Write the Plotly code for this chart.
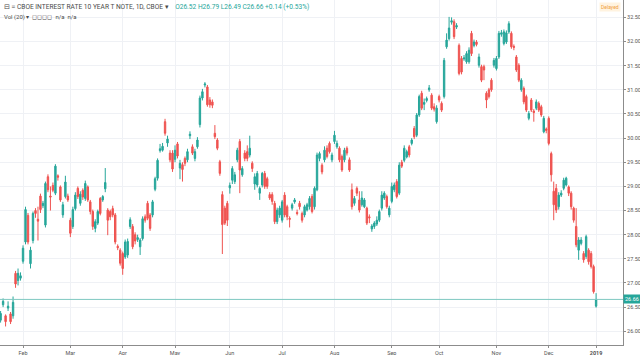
import plotly.graph_objects as go
import pandas as pd

# ---- categories: trading days ----
holidays = ["2018-02-19", "2018-03-30", "2018-05-28", "2018-07-04", "2018-09-03",
            "2018-11-22", "2018-12-05", "2018-12-25", "2019-01-01"]
dates = [d.strftime("%Y-%m-%d") for d in pd.bdate_range("2018-01-18", "2019-01-02")
         if d.strftime("%Y-%m-%d") not in holidays]

# ---- OHLC values ----
opens = [26.30, 26.23, 26.55, 26.32, 26.48, 26.36, 26.32, 27.20, 27.05, 27.10,
         27.45, 27.85, 28.40, 27.40, 27.88, 28.50, 28.32, 28.80, 28.60, 28.20,
         29.20, 28.80, 29.02, 28.86, 29.22, 28.99, 28.41, 28.79, 28.80, 28.30,
         28.17, 28.54, 28.96, 28.65, 28.92, 28.75, 28.99, 28.68, 28.48, 28.13,
         28.24, 28.75, 28.72, 28.95, 28.51, 28.48, 28.54, 28.41, 27.76, 27.68,
         27.61, 27.54, 27.58, 28.17, 28.17, 28.00, 27.90, 27.75, 27.92, 28.37,
         28.65, 28.41, 28.41, 28.94, 29.17, 29.74, 29.75, 30.34, 29.90, 29.69,
         29.69, 29.56, 29.88, 29.38, 29.45, 29.58, 29.55, 30.05, 29.82, 29.58,
         29.82, 30.28, 30.83, 31.10, 31.06, 30.79, 30.75, 30.10, 29.96, 29.51,
         28.83, 28.55, 28.65, 28.97, 29.13, 29.10, 29.55, 29.93, 29.24, 29.69,
         29.72, 29.65, 29.48, 29.05, 29.03, 28.86, 29.03, 29.27, 29.16, 28.83,
         28.83, 28.65, 28.27, 28.41, 28.30, 28.82, 28.58, 28.34, 28.55, 28.68,
         28.46, 28.65, 28.44, 28.41, 28.51, 28.58, 28.79, 28.58, 28.93, 29.58,
         29.44, 29.55, 29.79, 29.89, 29.55, 29.93, 29.82, 29.79, 29.62, 29.55,
         29.79, 29.55, 28.93, 28.65, 28.96, 28.72, 28.62, 28.58, 28.55, 28.37,
         28.12, 28.17, 28.22, 28.30, 28.55, 28.76, 28.79, 28.41, 28.69, 28.93,
         29.10, 28.86, 29.50, 29.54, 29.61, 29.82, 29.89, 30.20, 30.06, 30.48,
         30.93, 30.70, 30.78, 31.00, 30.89, 30.65, 30.34, 30.86, 30.72, 30.86,
         31.89, 32.06, 32.40, 32.41, 32.30, 31.92, 31.65, 31.64, 31.58, 31.58,
         32.17, 31.92, 31.99, 31.51, 31.48, 31.48, 30.93, 31.00, 31.20, 31.51,
         31.44, 31.68, 32.15, 31.96, 31.99, 32.20, 32.17, 31.90, 31.68, 31.51,
         31.00, 31.03, 30.86, 30.41, 30.79, 30.56, 30.62, 30.72, 30.65, 30.13,
         30.19, 30.41, 29.68, 28.90, 28.96, 28.58, 28.82, 28.96, 29.03, 28.99,
         28.86, 28.55, 28.17, 27.68, 27.82, 27.61, 27.55, 27.68, 27.61, 27.34,
         26.52]
highs = [26.36, 26.42, 26.68, 26.35, 26.62, 26.40, 26.72, 27.25, 27.30, 27.22,
         27.78, 28.58, 28.45, 27.75, 28.48, 28.55, 28.58, 28.85, 28.70, 29.10,
         29.25, 29.00, 29.08, 29.46, 29.25, 29.02, 28.68, 29.22, 28.85, 28.35,
         28.58, 28.88, 29.00, 28.90, 28.96, 29.12, 29.02, 28.72, 28.52, 28.32,
         28.52, 28.78, 28.82, 29.38, 28.55, 28.52, 28.60, 28.45, 27.80, 27.72,
         27.65, 27.90, 27.92, 28.36, 28.22, 28.05, 28.00, 27.93, 28.38, 28.42,
         28.70, 28.45, 28.72, 29.20, 29.58, 29.88, 29.90, 30.40, 30.05, 29.75,
         29.75, 29.85, 29.92, 29.55, 29.50, 29.62, 29.78, 30.14, 29.87, 29.78,
         30.02, 30.88, 31.02, 31.16, 31.10, 30.85, 30.80, 30.27, 30.00, 29.55,
         28.90, 28.60, 28.70, 29.08, 29.42, 29.30, 29.80, 29.98, 29.42, 29.75,
         29.85, 30.05, 29.52, 29.27, 29.32, 29.00, 29.30, 29.32, 29.20, 28.88,
         28.88, 28.70, 28.56, 28.60, 28.72, 28.88, 28.62, 28.38, 28.66, 28.76,
         28.52, 28.70, 28.48, 28.62, 28.66, 28.80, 28.84, 29.00, 29.70, 29.72,
         29.48, 29.83, 29.85, 29.93, 29.70, 30.15, 29.95, 29.83, 29.66, 29.80,
         29.83, 29.60, 29.06, 28.80, 29.00, 28.90, 28.90, 28.76, 28.58, 28.42,
         28.22, 28.28, 28.38, 28.52, 28.90, 28.90, 28.83, 28.60, 29.08, 29.08,
         29.15, 29.50, 29.55, 29.85, 29.76, 29.86, 30.00, 30.25, 30.52, 30.90,
         30.98, 30.82, 30.86, 31.10, 30.93, 30.72, 30.68, 30.90, 30.76, 31.66,
         32.17, 32.51, 32.50, 32.46, 32.38, 31.96, 31.70, 31.72, 31.80, 31.88,
         32.22, 32.04, 32.03, 31.75, 31.52, 31.52, 30.97, 31.04, 31.24, 31.66,
         31.70, 32.22, 32.24, 32.25, 32.23, 32.42, 32.21, 31.94, 31.72, 31.55,
         31.24, 31.07, 30.90, 30.56, 30.83, 30.60, 30.80, 30.76, 30.69, 30.46,
         30.22, 30.45, 29.72, 29.10, 29.05, 28.88, 28.92, 29.18, 29.20, 29.02,
         28.90, 28.58, 28.55, 27.95, 27.95, 27.66, 28.00, 27.72, 27.66, 27.38,
         26.79]
lows = [26.20, 26.18, 26.50, 26.10, 26.42, 26.15, 26.26, 26.90, 26.95, 27.05,
        27.40, 27.80, 27.80, 27.30, 27.82, 28.35, 27.88, 28.45, 28.55, 28.15,
        28.88, 28.50, 28.88, 28.82, 29.12, 28.68, 28.35, 28.75, 28.68, 27.95,
        28.12, 28.50, 28.74, 28.60, 28.72, 28.70, 28.68, 28.42, 28.10, 28.05,
        28.20, 28.40, 28.68, 28.88, 27.99, 28.30, 28.36, 27.80, 27.68, 27.36,
        27.17, 27.50, 27.52, 28.12, 27.70, 27.80, 27.85, 27.58, 27.88, 28.25,
        28.30, 28.08, 28.36, 28.90, 29.12, 29.70, 29.72, 30.05, 29.82, 29.50,
        29.30, 29.50, 29.58, 29.15, 29.10, 29.42, 29.50, 29.98, 29.65, 29.52,
        29.78, 30.22, 30.78, 31.05, 30.65, 30.63, 30.62, 29.98, 29.75, 29.22,
        27.60, 28.20, 28.18, 28.85, 29.05, 29.05, 29.50, 28.86, 29.20, 29.52,
        29.52, 29.60, 29.30, 28.93, 28.98, 28.72, 28.98, 28.95, 28.95, 28.72,
        28.62, 28.22, 28.22, 28.35, 28.25, 28.36, 28.30, 28.15, 28.50, 28.64,
        28.40, 28.52, 28.25, 28.36, 28.48, 28.52, 28.44, 28.52, 28.90, 29.52,
        29.25, 29.50, 29.58, 29.68, 29.50, 29.88, 29.78, 29.50, 29.30, 29.50,
        29.64, 29.30, 28.52, 28.60, 28.80, 28.46, 28.58, 28.55, 28.20, 28.24,
        28.06, 28.12, 28.18, 28.26, 28.50, 28.72, 28.54, 28.36, 28.65, 28.88,
        28.75, 28.82, 29.38, 29.50, 29.58, 29.60, 29.85, 29.98, 30.02, 30.44,
        30.58, 30.58, 30.74, 30.96, 30.58, 30.55, 30.30, 30.74, 30.54, 30.82,
        31.85, 32.02, 32.35, 32.05, 32.26, 31.30, 31.32, 31.60, 31.54, 31.54,
        31.70, 31.88, 31.90, 31.46, 31.16, 31.20, 30.62, 30.82, 30.96, 31.46,
        31.40, 31.64, 32.10, 31.92, 31.95, 32.16, 31.85, 31.82, 31.37, 31.16,
        30.96, 30.70, 30.54, 30.37, 30.54, 30.34, 30.58, 30.54, 30.44, 30.10,
        30.10, 29.85, 29.10, 28.30, 28.45, 28.52, 28.78, 28.92, 29.00, 28.80,
        28.52, 28.25, 27.74, 27.48, 27.78, 27.42, 27.50, 27.38, 27.30, 26.78,
        26.49]
closes = [26.25, 26.37, 26.62, 26.20, 26.52, 26.20, 26.60, 26.98, 27.20, 27.15,
          27.72, 28.52, 27.85, 27.68, 28.44, 28.44, 28.28, 28.52, 28.65, 29.06,
          28.93, 28.78, 28.92, 29.42, 29.19, 28.72, 28.62, 29.09, 28.72, 28.03,
          28.52, 28.82, 28.79, 28.84, 28.78, 29.06, 28.72, 28.48, 28.17, 28.27,
          28.48, 28.44, 28.79, 29.08, 28.30, 28.37, 28.41, 27.85, 27.73, 27.41,
          27.30, 27.85, 27.86, 28.31, 27.75, 27.87, 27.94, 27.89, 28.33, 28.30,
          28.34, 28.13, 28.68, 29.16, 29.54, 29.78, 29.83, 30.10, 29.98, 29.55,
          29.36, 29.75, 29.63, 29.48, 29.35, 29.48, 29.72, 30.08, 29.69, 29.72,
          29.96, 30.83, 30.96, 31.12, 30.69, 30.69, 30.68, 30.03, 29.79, 29.27,
          28.21, 28.24, 28.30, 29.02, 29.37, 29.24, 29.75, 29.34, 29.37, 29.58,
          29.58, 29.79, 29.37, 29.20, 29.27, 28.96, 29.27, 29.00, 29.00, 28.76,
          28.69, 28.27, 28.51, 28.55, 28.68, 28.41, 28.37, 28.32, 28.62, 28.72,
          28.44, 28.58, 28.30, 28.58, 28.62, 28.75, 28.48, 28.96, 29.65, 29.68,
          29.30, 29.75, 29.62, 29.72, 29.65, 30.06, 29.89, 29.55, 29.34, 29.75,
          29.69, 29.34, 28.58, 28.75, 28.86, 28.51, 28.76, 28.72, 28.24, 28.35,
          28.18, 28.24, 28.30, 28.48, 28.82, 28.86, 28.58, 28.55, 29.00, 29.03,
          28.79, 29.44, 29.42, 29.79, 29.72, 29.65, 29.96, 30.03, 30.48, 30.86,
          30.62, 30.74, 30.82, 31.04, 30.62, 30.60, 30.62, 30.79, 30.58, 31.61,
          32.03, 32.28, 32.43, 32.10, 32.33, 31.34, 31.37, 31.66, 31.75, 31.82,
          31.75, 31.99, 31.94, 31.68, 31.20, 31.41, 30.79, 30.86, 31.00, 31.61,
          31.65, 32.17, 32.18, 32.20, 32.18, 32.37, 31.89, 31.88, 31.41, 31.20,
          31.20, 30.75, 30.58, 30.51, 30.58, 30.53, 30.75, 30.58, 30.48, 30.41,
          30.16, 29.89, 29.24, 28.62, 28.51, 28.82, 28.86, 29.13, 29.17, 28.86,
          28.58, 28.30, 27.79, 27.89, 27.89, 27.48, 27.96, 27.44, 27.34, 26.82,
          26.66]

# ---- axis ticks ----
month_tick_dates = ["2018-02-01", "2018-03-01", "2018-04-02", "2018-05-01", "2018-06-01",
                    "2018-07-02", "2018-08-01", "2018-09-04", "2018-10-01", "2018-11-01",
                    "2018-12-03", "2019-01-02"]
month_tick_labels = ["Feb", "Mar", "Apr", "May", "Jun", "Jul", "Aug", "Sep", "Oct",
                     "Nov", "Dec", "<b>2019</b>"]
price_ticks = [26.0, 26.5, 27.0, 27.5, 28.0, 28.5, 29.0, 29.5, 30.0, 30.5, 31.0,
               31.5, 32.0, 32.5]
last_price = 26.66

UP = "#26a69a"
DOWN = "#ef5350"
FONT = "Roboto"

fig = go.Figure(go.Candlestick(
    x=dates, open=opens, high=highs, low=lows, close=closes,
    increasing=dict(line=dict(color=UP, width=1), fillcolor=UP),
    decreasing=dict(line=dict(color=DOWN, width=1), fillcolor=DOWN),
    whiskerwidth=0, showlegend=False, hoverinfo="skip",
))

fig.add_shape(type="line", xref="paper", x0=0, x1=1, yref="y", y0=last_price, y1=last_price,
              line=dict(color="#7fc9c1", width=1))

fig.update_layout(
    width=640, height=355,
    margin=dict(l=0, r=17, t=0, b=10),
    paper_bgcolor="white", plot_bgcolor="white",
    boxgap=0.2,
    font=dict(family=FONT, color="#555555", size=6),
    xaxis=dict(type="category", range=[0.76, 250.8], tickvals=month_tick_dates,
               ticktext=month_tick_labels, showgrid=True, gridcolor="#eff1f5", gridwidth=1,
               showline=True, linecolor="#8c8c8c", linewidth=1, ticks="outside",
               ticklen=2, tickcolor="#8c8c8c", tickfont=dict(size=5.5, color="#555"),
               rangeslider=dict(visible=False), automargin=False, zeroline=False),
    yaxis=dict(side="right", range=[25.716, 32.86], tickvals=price_ticks,
               ticktext=[f"{v:.2f}" for v in price_ticks], showgrid=True,
               gridcolor="#eff1f5", gridwidth=1, showline=True, linecolor="#8c8c8c",
               linewidth=1, ticks="outside", ticklen=2, tickcolor="#8c8c8c",
               tickfont=dict(size=5.5, color="#555"), automargin=False, zeroline=False),
)

fig.add_annotation(xref="paper", yref="paper", x=0.003, y=0.981, xanchor="left",
                   yanchor="middle", showarrow=False,
                   text=("⊟ ≡ CBOE INTEREST RATE 10 YEAR T NOTE, 1D, CBOE ▾    "
                         "<span style='color:#26a69a'>O26.52 H26.79 L26.49 C26.66 +0.14 (+0.53%)</span>"),
                   font=dict(size=6.6, color="#4a4a4a", family=FONT))
fig.add_annotation(xref="paper", yref="paper", x=0.003, y=0.95, xanchor="left",
                   yanchor="middle", showarrow=False,
                   text="Vol (20) ▾  ◻◻◻◻  n/a  n/a",
                   font=dict(size=6, color="#4a4a4a", family=FONT))
fig.add_annotation(xref="paper", yref="paper", x=0.997, y=0.981, xanchor="right",
                   yanchor="middle", showarrow=False, text="Delayed",
                   bgcolor="#fff3e0", borderpad=1,
                   font=dict(size=5, color="#f0a040", family=FONT))
fig.add_annotation(xref="paper", yref="y", x=1.0, y=last_price, xanchor="left",
                   yanchor="middle", showarrow=False, text=f"{last_price:.2f}",
                   bgcolor=UP, borderpad=1,
                   font=dict(size=5.5, color="white", family=FONT))

fig.write_html("out.html", config={"displayModeBar": False},
               post_script="document.body.style.margin='0';")
